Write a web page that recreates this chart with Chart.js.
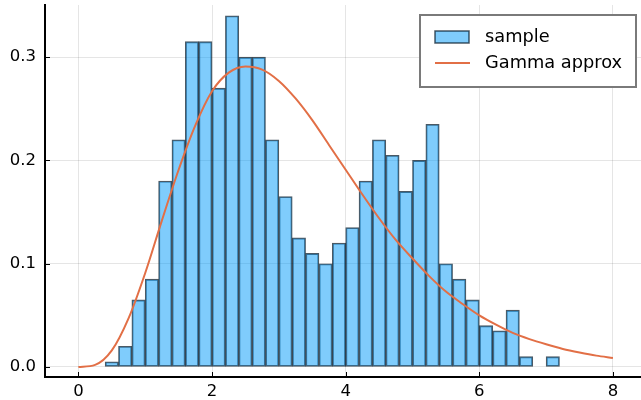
<!DOCTYPE html>
<html>
<head>
<meta charset="utf-8">
<script src="https://cdn.jsdelivr.net/npm/chart.js@4"></script>
<style>
  html, body { margin: 0; padding: 0; background: #fff; }
  #wrap { width: 641px; height: 400px; }
</style>
</head>
<body>
<div id="wrap"><canvas id="c" width="641" height="400"></canvas></div>
<script>
// Histogram bins (left edges, width 0.2) and normalized densities
const binStart = 0.4;
const binWidth = 0.2;
const density = [
  0.005, 0.02, 0.065, 0.085, 0.18, 0.22, 0.315, 0.315, 0.27, 0.34,
  0.30, 0.30, 0.22, 0.165, 0.125, 0.11, 0.10, 0.12, 0.135, 0.18,
  0.22, 0.205, 0.17, 0.20, 0.235, 0.10, 0.085, 0.065, 0.04, 0.035,
  0.055, 0.01, 0.0, 0.01
];

// Fitted Gamma density curve
const curveX = [
  0, 0.25, 0.5, 0.75, 1, 1.25, 1.5, 1.75, 2, 2.25, 2.5, 2.75, 3, 3.25, 3.5, 3.75, 4,
  4.25, 4.5, 4.75, 5, 5.25, 5.5, 5.75, 6, 6.25, 6.5, 6.75, 7, 7.25, 7.5, 7.75, 8
];
const curveY = [
  0, 0.002, 0.016, 0.047, 0.091, 0.142, 0.191, 0.234, 0.267, 0.285, 0.291, 0.288,
  0.277, 0.260, 0.239, 0.215, 0.191, 0.167, 0.144, 0.123, 0.105, 0.088, 0.073,
  0.061, 0.050, 0.041, 0.033, 0.027, 0.022, 0.0175, 0.014, 0.011, 0.0088
];

const xTicks = [0, 2, 4, 6, 8];
const yTicks = [0.0, 0.1, 0.2, 0.3];

const seriesNames = ['sample', 'Gamma approx'];
const barFill = 'rgba(0,154,250,0.5)';
const barEdge = 'rgba(5,25,40,0.72)';
const lineColor = '#e26f46';
const FONT = '"DejaVu Sans", sans-serif';

const barData = density.map((h, i) => ({ x: binStart + binWidth * (i + 0.5), y: h }));
const lineData = curveX.map((x, i) => ({ x: x, y: curveY[i] }));

// Short tick marks pointing into the plot area
const innerTicks = {
  id: 'innerTicks',
  afterDatasetsDraw(chart) {
    const { ctx, chartArea: a, scales: { x, y } } = chart;
    ctx.save();
    ctx.strokeStyle = '#000';
    ctx.lineWidth = 1;
    xTicks.forEach(v => {
      const px = Math.round(x.getPixelForValue(v)) + 0.5;
      ctx.beginPath(); ctx.moveTo(px, a.bottom); ctx.lineTo(px, a.bottom - 5); ctx.stroke();
    });
    yTicks.forEach(v => {
      const py = Math.round(y.getPixelForValue(v)) + 0.5;
      ctx.beginPath(); ctx.moveTo(a.left, py); ctx.lineTo(a.left + 5, py); ctx.stroke();
    });
    ctx.restore();
  }
};

// Boxed legend in the upper right corner
const boxLegend = {
  id: 'boxLegend',
  afterDraw(chart) {
    const ctx = chart.ctx;
    ctx.save();
    ctx.fillStyle = '#fff';
    ctx.fillRect(420, 15, 216, 72);
    ctx.strokeStyle = '#7a7a7a';
    ctx.lineWidth = 2;
    ctx.strokeRect(420, 15, 216, 72);
    // sample swatch
    ctx.fillStyle = barFill;
    ctx.fillRect(435, 31, 34, 12);
    ctx.strokeStyle = barEdge;
    ctx.lineWidth = 1.5;
    ctx.strokeRect(435, 31, 34, 12);
    // curve swatch
    ctx.strokeStyle = lineColor;
    ctx.lineWidth = 2;
    ctx.beginPath(); ctx.moveTo(435, 63); ctx.lineTo(470, 63); ctx.stroke();
    ctx.fillStyle = '#000';
    ctx.font = '17.8px ' + FONT;
    ctx.textBaseline = 'middle';
    ctx.textAlign = 'left';
    ctx.fillText(seriesNames[0], 485, 37);
    ctx.fillText(seriesNames[1], 485, 63);
    ctx.restore();
  }
};

new Chart(document.getElementById('c'), {
  data: {
    datasets: [
      {
        type: 'line',
        label: seriesNames[1],
        data: lineData,
        borderColor: lineColor,
        borderWidth: 2,
        pointRadius: 0,
        cubicInterpolationMode: 'monotone',
        fill: false,
        order: 0
      },
      {
        type: 'bar',
        label: seriesNames[0],
        data: barData,
        backgroundColor: barFill,
        borderColor: barEdge,
        borderWidth: 1.2,
        borderSkipped: false,
        barPercentage: 1,
        categoryPercentage: 1,
        order: 1
      }
    ]
  },
  options: {
    responsive: false,
    animation: false,
    layout: { padding: { top: 5, right: 0, left: 0, bottom: 0 } },
    plugins: { legend: { display: false }, tooltip: { enabled: false } },
    scales: {
      x: {
        type: 'linear',
        offset: false,
        min: -0.5,
        max: 8.42,
        afterFit(s) { s.height = 23; s.paddingLeft = 0; s.paddingRight = 0; },
        afterBuildTicks(s) { s.ticks = xTicks.map(v => ({ value: v })); },
        ticks: {
          color: '#000',
          font: { family: FONT, size: 16.5 },
          padding: 5,
          maxRotation: 0,
          callback: v => String(v)
        },
        grid: { color: 'rgba(0,0,0,0.1)', lineWidth: 1, drawTicks: false, offset: false },
        border: { display: true, color: '#000', width: 2 }
      },
      y: {
        type: 'linear',
        min: -0.0097,
        max: 0.3505,
        afterFit(s) { s.width = 45; s.paddingTop = 0; s.paddingBottom = 0; },
        afterBuildTicks(s) { s.ticks = yTicks.map(v => ({ value: v })); },
        ticks: {
          color: '#000',
          font: { family: FONT, size: 16.5 },
          padding: 9,
          callback: v => v.toFixed(1)
        },
        grid: { color: 'rgba(0,0,0,0.1)', lineWidth: 1, drawTicks: false },
        border: { display: true, color: '#000', width: 2 }
      }
    }
  },
  plugins: [innerTicks, boxLegend]
});
</script>
</body>
</html>
